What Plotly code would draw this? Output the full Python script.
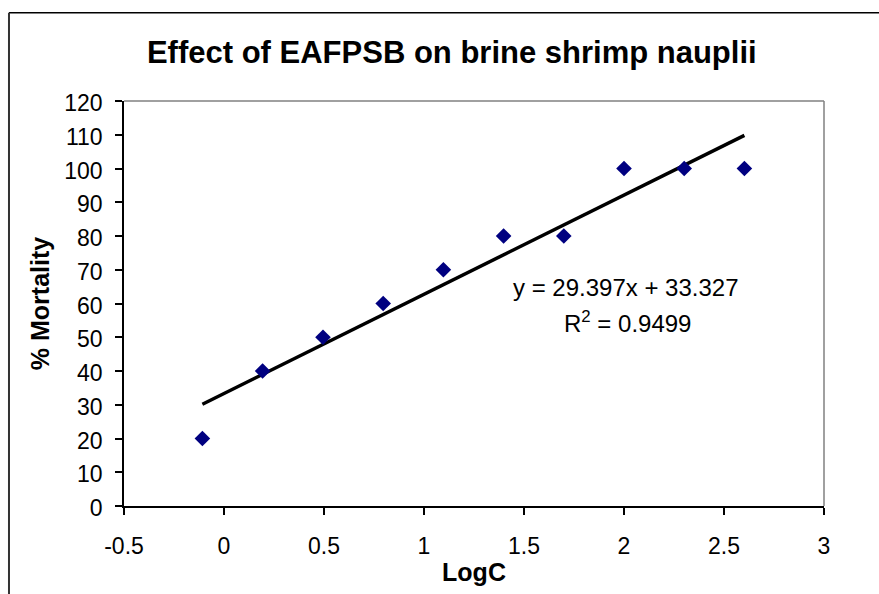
import numpy as np
import plotly.graph_objects as go

# Brine shrimp lethality data: log concentration vs % mortality
log_c = [-0.108, 0.193, 0.495, 0.796, 1.097, 1.398, 1.699, 2.0, 2.301, 2.602]
mortality = [20, 40, 50, 60, 70, 80, 80, 100, 100, 100]

# Linear trendline coefficients and fit quality
slope = 29.397
intercept = 33.327
r_squared = 0.9499

x_ticks = [-0.5, 0, 0.5, 1, 1.5, 2, 2.5, 3]
y_ticks = list(range(0, 121, 10))

FONT = "Liberation Sans, Arial, sans-serif"

fit_x = np.array([min(log_c), max(log_c)])
fit_y = slope * fit_x + intercept

fig = go.Figure()
fig.add_trace(go.Scatter(
    x=fit_x, y=fit_y, mode="lines",
    line=dict(color="black", width=3.5),
    hoverinfo="skip", showlegend=False,
))
fig.add_trace(go.Scatter(
    x=log_c, y=mortality, mode="markers",
    marker=dict(symbol="diamond", size=12, color="#000080",
                line=dict(width=0)),
    showlegend=False,
))

# Plot-area border (top and right) and outer chart frame
fig.add_shape(type="line", xref="paper", yref="paper", x0=0, x1=1, y0=1, y1=1,
              line=dict(color="#808080", width=1.5))
fig.add_shape(type="line", xref="paper", yref="paper", x0=1, x1=1, y0=0, y1=1,
              line=dict(color="#808080", width=1.5))
fig.add_shape(type="line", xref="paper", yref="paper", x0=-0.1643, x1=1.1, y0=1.2176, y1=1.2176,
              line=dict(color="black", width=1.5))
fig.add_shape(type="line", xref="paper", yref="paper", x0=-0.1643, x1=-0.1643, y0=-0.25, y1=1.2176,
              line=dict(color="#333333", width=2))

# Trendline equation and R² label
fig.add_annotation(
    x=0.717, y=0.540, xref="paper", yref="paper",
    xanchor="center", yanchor="middle",
    text=f"y = {slope}x + {intercept}",
    showarrow=False,
    font=dict(family=FONT, size=24, color="black"),
)
fig.add_annotation(
    x=0.719, y=0.455, xref="paper", yref="paper",
    xanchor="center", yanchor="middle",
    text=f"R<sup>2</sup> = {r_squared}",
    showarrow=False,
    font=dict(family=FONT, size=24, color="black"),
)

fig.update_layout(
    width=879, height=594,
    margin=dict(l=124, r=55, t=101, b=84),
    paper_bgcolor="white", plot_bgcolor="white",
    title=dict(
        text="<b>Effect of EAFPSB on brine shrimp nauplii</b>",
        x=0.514, xanchor="center", y=0.912, yanchor="middle",
        font=dict(family=FONT, size=31, color="black"),
    ),
    xaxis=dict(
        range=[-0.5, 3], tickvals=x_ticks,
        ticktext=[f"{v:g}" for v in x_ticks],
        showgrid=False, zeroline=False,
        showline=True, linecolor="black", linewidth=1.5,
        ticks="outside", ticklen=7, tickcolor="black", tickwidth=1.5,
        ticklabelstandoff=12,
        tickfont=dict(family=FONT, size=23, color="black"),
        title=dict(text="<b>LogC</b>", standoff=5,
                   font=dict(family=FONT, size=25, color="black")),
    ),
    yaxis=dict(
        range=[0, 120], tickvals=y_ticks,
        showgrid=False, zeroline=False,
        showline=True, linecolor="black", linewidth=1.5,
        ticks="outside", ticklen=7, tickcolor="black", tickwidth=1.5,
        ticklabelstandoff=8, ticklabelshift=2,
        tickfont=dict(family=FONT, size=23, color="black"),
        title=dict(text="<b>% Mortality</b>", standoff=8,
                   font=dict(family=FONT, size=25, color="black")),
    ),
)

fig.write_html("out.html")
